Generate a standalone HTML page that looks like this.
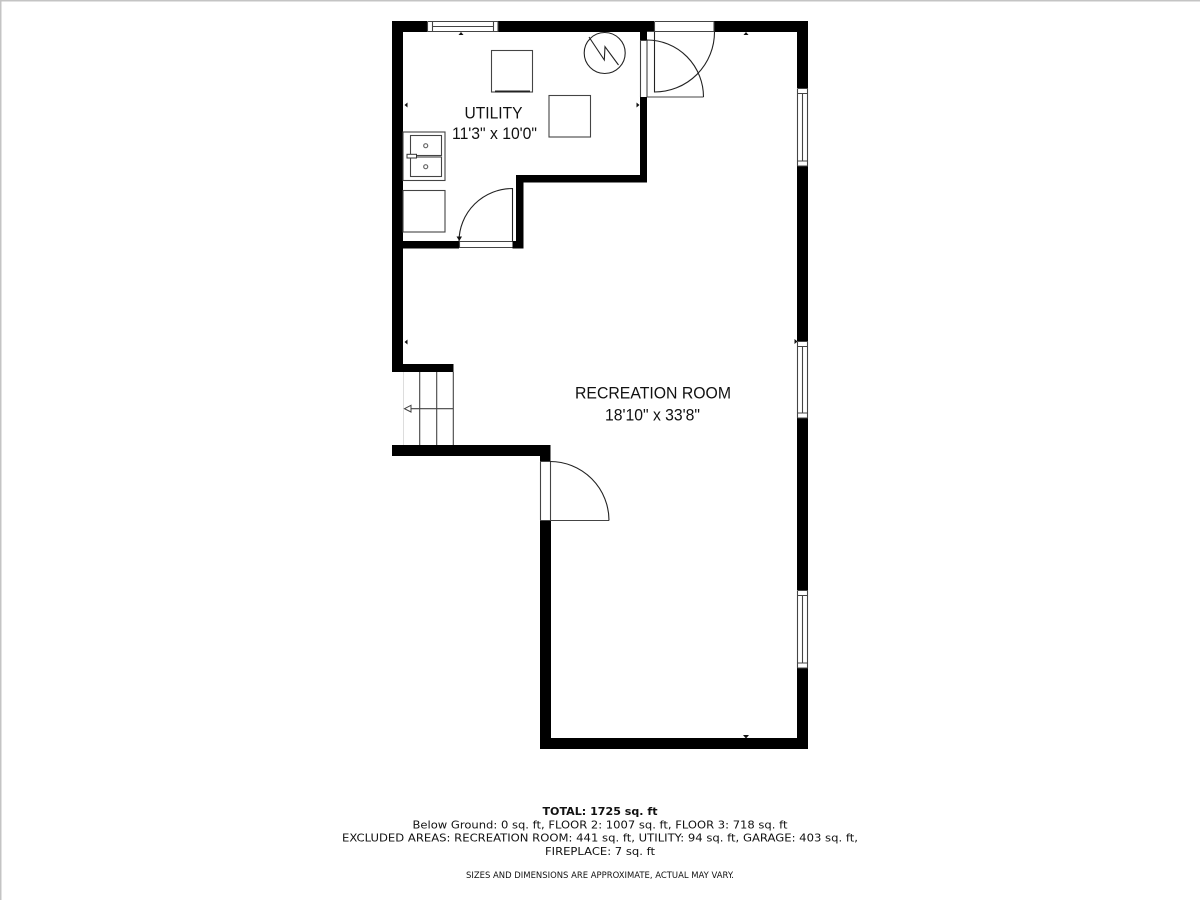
<!DOCTYPE html>
<html><head><meta charset="utf-8"><style>
html,body{margin:0;padding:0;background:#fff}
svg{display:block;filter:blur(0.3px)}
.t{font-family:"Liberation Sans",Arial,sans-serif;font-size:16.5px;fill:#111;text-anchor:middle}
.f{font-family:"DejaVu Sans",Verdana,sans-serif;font-size:11px;fill:#111}
.g{fill:none;stroke:#444;stroke-width:1.1}
.d{fill:none;stroke:#222;stroke-width:1.1}
</style></head><body>
<svg xmlns="http://www.w3.org/2000/svg" width="1200" height="900" viewBox="0 0 1200 900">
<rect width="1200" height="900" fill="#fff"/>
<rect x="0" y="0" width="1200" height="1.500" fill="#c4c4c4"/>
<rect x="0" y="0" width="1.500" height="900" fill="#c4c4c4"/>

<!-- walls -->
<g fill="#000">
<rect x="392" y="21" width="35" height="11"/>
<rect x="498" y="21" width="156" height="11"/>
<rect x="714" y="21" width="94" height="11"/>
<rect x="392" y="21" width="11" height="351"/>
<rect x="392" y="364" width="61.500" height="8"/>
<rect x="392" y="445" width="158.500" height="11"/>
<rect x="540" y="445" width="10.500" height="17"/>
<rect x="540" y="520" width="11" height="229"/>
<rect x="540" y="738" width="268" height="11"/>
<rect x="797" y="21" width="11" height="67"/>
<rect x="797" y="166" width="11" height="175"/>
<rect x="797" y="418" width="11" height="172"/>
<rect x="797" y="668" width="11" height="81"/>
<rect x="640" y="21" width="7" height="19"/>
<rect x="640" y="97" width="7" height="85.500"/>
<rect x="516" y="175" width="131" height="7.500"/>
<rect x="516" y="175" width="7.500" height="73"/>
<rect x="403" y="241" width="56" height="7.500"/>
<rect x="512.500" y="241" width="11" height="7.500"/>
</g>

<!-- top window -->
<path class="g" d="M427.500 21.500V32M432.500 21.500V32M493.500 21.500V32M498 21.500V32M427.500 21.500H498M432.500 26.500H493.500M427.500 31.500H498"/>
<!-- right windows -->
<path class="g" d="M797.500 88.500V166M807.500 88.500V166M802.500 93.500V161M797.500 88.500H808M797.500 93.500H808M797.500 161H808M797.500 166H808"/>
<path class="g" d="M797.500 341.500V418M807.500 341.500V418M802.500 346.500V413M797.500 341.500H808M797.500 346.500H808M797.500 413H808M797.500 418H808"/>
<path class="g" d="M797.500 590.500V668M807.500 590.500V668M802.500 595.500V663M797.500 590.500H808M797.500 595.500H808M797.500 663H808M797.500 668H808"/>

<!-- doors -->
<path class="g" d="M654.500 21.500H714M654.500 21.500V32M714 21.500V32M647 31.500H714"/>
<path class="d" d="M654.500 32V92A60 60 0 0 0 714.500 32"/>
<path class="g" d="M640.500 40.500V97M647 40.500V97M640 40.500H647M647 97H703.500"/>
<path class="d" d="M647 40A56.500 57 0 0 1 703.500 97"/>

<path class="g" d="M540.500 462V520M550.500 462V520M540 461.500H550M540 520.500H609"/>
<path class="d" d="M550 461.500A59 59 0 0 1 609 520.500"/>

<path class="g" d="M459.500 241.500H512.500M459.500 247.500H512.500M459.500 241V248"/>
<path class="d" d="M512.500 241V188.500A53.500 53 0 0 0 459 241.500"/>
<path d="M456.500 236.500H462L459.300 241Z" fill="#111"/>

<!-- fixtures -->
<rect class="g" x="491.500" y="50.500" width="41" height="41.500"/>
<rect x="495" y="90.500" width="35" height="1.800" fill="#222"/>
<rect class="g" x="549" y="95.500" width="41.500" height="41.500"/>
<circle class="d" cx="604.700" cy="53" r="20.500"/>
<path class="d" d="M589 37L604.300 60L605 46.700L618.500 65"/>

<rect class="g" x="403" y="132" width="42" height="48.500"/>
<rect class="g" x="410.500" y="135.500" width="31" height="20"/>
<rect class="g" x="410.500" y="157" width="31" height="19.500"/>
<circle cx="425.700" cy="145.700" r="2" fill="none" stroke="#666" stroke-width="1.200"/>
<circle cx="425.700" cy="166.700" r="2" fill="none" stroke="#666" stroke-width="1.200"/>
<rect x="407" y="154.300" width="9.500" height="3.700" fill="#fff" stroke="#333" stroke-width="1"/>
<rect class="g" x="403" y="190.500" width="42" height="41.500"/>

<!-- stairs -->
<path d="M403.500 372V445" stroke="#ddd" stroke-width="1" fill="none"/>
<path class="g" d="M419.700 372V445M436.700 372V445M453.300 372V445M411 408.700H453.300"/>
<path d="M404.500 408.700L411 405.300V412Z" fill="#fff" stroke="#444" stroke-width="1"/>

<!-- dimension markers -->
<g fill="#111">
<path d="M458.500 35H463.500L461 32Z"/>
<path d="M743.500 35H748.500L746 32Z"/>
<path d="M407.500 102.500V107.500L404.500 105Z"/>
<path d="M636.500 102.500V107.500L639.500 105Z"/>
<path d="M407.500 339.500V344.500L404.500 342Z"/>
<path d="M794.500 339V344L797.500 341.500Z"/>
<path d="M743 735H749L746 738.500Z"/>
</g>

<!-- labels -->
<text class="t" x="493.500" y="118.500" textLength="58" lengthAdjust="spacingAndGlyphs">UTILITY</text>
<text class="t" x="494.500" y="139" textLength="85" lengthAdjust="spacingAndGlyphs">11'3" x 10'0"</text>
<text class="t" x="653" y="398.500" textLength="156" lengthAdjust="spacingAndGlyphs">RECREATION ROOM</text>
<text class="t" x="652.500" y="420.500" textLength="95" lengthAdjust="spacingAndGlyphs">18'10" x 33'8"</text>

<text class="f" x="600" y="815" text-anchor="middle" style="font-weight:bold" textLength="115" lengthAdjust="spacingAndGlyphs">TOTAL: 1725 sq. ft</text>
<text class="f" x="600" y="828.300" text-anchor="middle" textLength="375" lengthAdjust="spacingAndGlyphs">Below Ground: 0 sq. ft, FLOOR 2: 1007 sq. ft, FLOOR 3: 718 sq. ft</text>
<text class="f" x="600" y="841.700" text-anchor="middle" textLength="516" lengthAdjust="spacingAndGlyphs">EXCLUDED AREAS: RECREATION ROOM: 441 sq. ft, UTILITY: 94 sq. ft, GARAGE: 403 sq. ft,</text>
<text class="f" x="600" y="855" text-anchor="middle" textLength="110" lengthAdjust="spacingAndGlyphs">FIREPLACE: 7 sq. ft</text>
<text class="f" x="600" y="878" text-anchor="middle" style="font-size:8.500px" textLength="268" lengthAdjust="spacingAndGlyphs">SIZES AND DIMENSIONS ARE APPROXIMATE, ACTUAL MAY VARY.</text>
</svg>
</body></html>
